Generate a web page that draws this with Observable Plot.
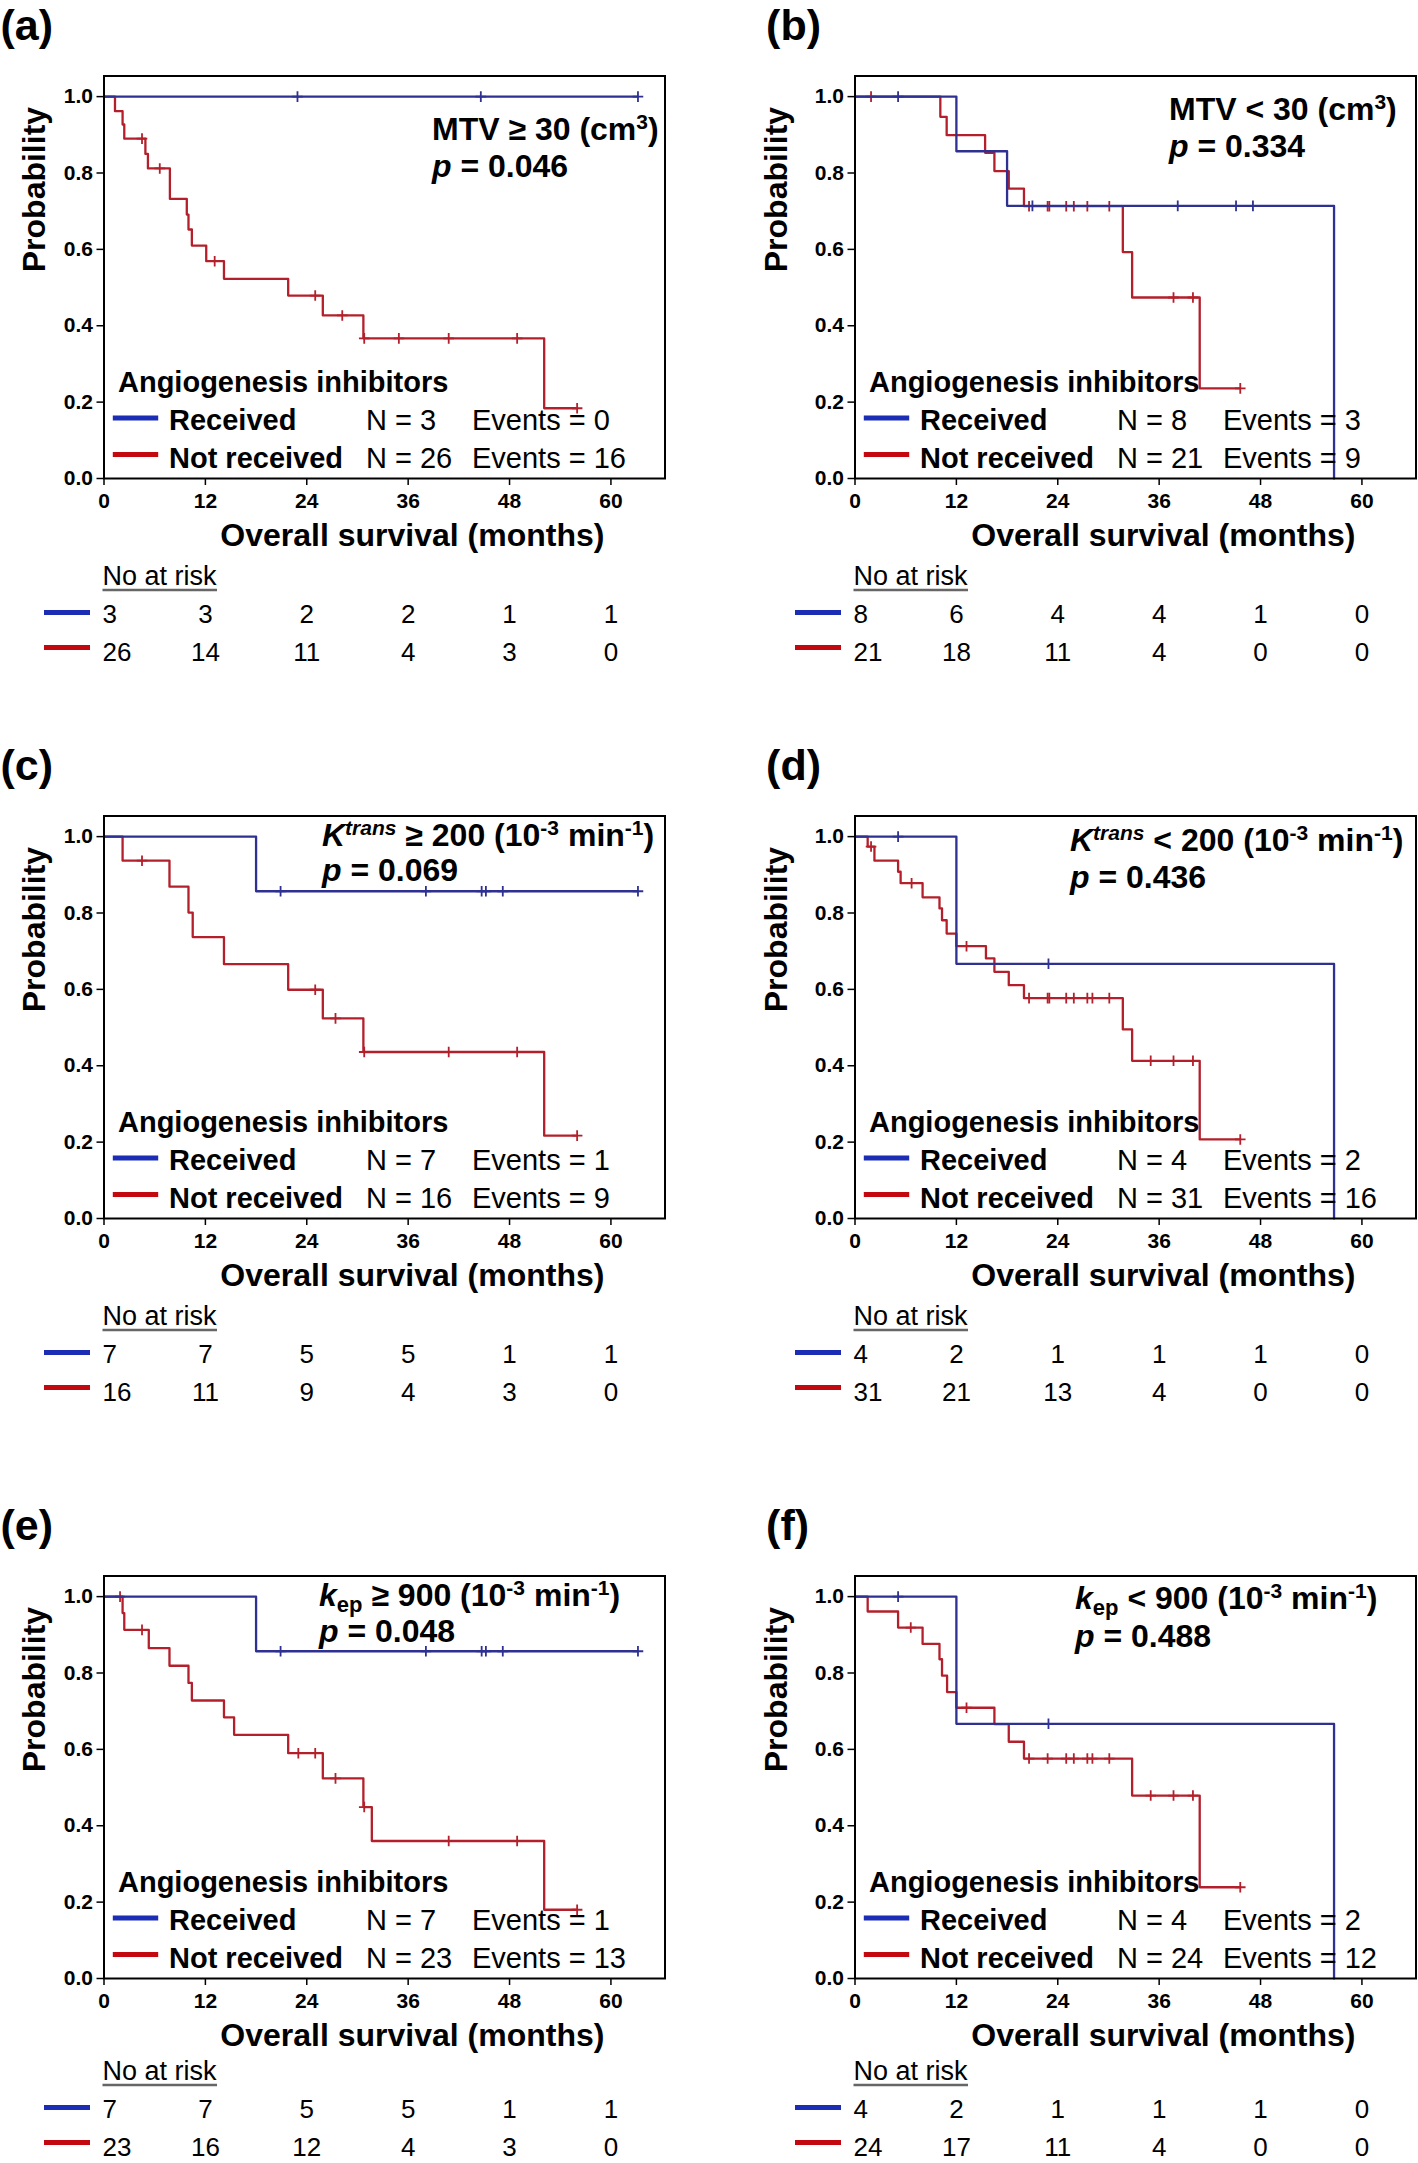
<!DOCTYPE html>
<html><head><meta charset="utf-8">
<script src="https://cdn.jsdelivr.net/npm/d3@7"></script>
<script src="https://cdn.jsdelivr.net/npm/@observablehq/plot@0.6"></script>
<style>
body{margin:0;background:#fff;}
#page{position:relative;width:1418px;height:2163px;overflow:hidden;background:#fff;}
.panel{position:absolute;}
.panel svg{display:block;overflow:visible;max-width:none;}
</style></head><body><div id="page"></div>
<script>
// ---------- data ----------
const xTicks = [0, 12, 24, 36, 48, 60];
const yTicks = [0, 0.2, 0.4, 0.6, 0.8, 1.0];
const groups = ["Received", "Not received"];
const panelLabels = ["(a)", "(b)", "(c)", "(d)", "(e)", "(f)"];
const pValues = ["0.046", "0.334", "0.069", "0.436", "0.048", "0.488"];
const nReceived = [3, 8, 7, 4, 7, 4];
const nNotReceived = [26, 21, 16, 31, 23, 24];
const eventsReceived = [0, 3, 1, 2, 1, 2];
const eventsNotReceived = [16, 9, 9, 16, 13, 12];
const riskReceived = [[3,3,2,2,1,1],[8,6,4,4,1,0],[7,7,5,5,1,1],[4,2,1,1,1,0],[7,7,5,5,1,1],[4,2,1,1,1,0]];
const riskNotReceived = [[26,14,11,4,3,0],[21,18,11,4,0,0],[16,11,9,4,3,0],[31,21,13,4,0,0],[23,16,12,4,3,0],[24,17,11,4,0,0]];

// (a) MTV >= 30
const aRecTime = [0, 63.2];
const aRecSurv = [1, 1];
const aRecCens = [22.9, 44.6, 63.2];
const aNotTime = [0, 1.3, 2.2, 2.4, 4.9, 5.2, 7.8, 9.8, 10.0, 10.4, 12.1, 14.2, 21.8, 25.9, 30.7, 52.1, 56.0];
const aNotSurv = [1, 0.962, 0.927, 0.890, 0.850, 0.812, 0.732, 0.691, 0.652, 0.610, 0.569, 0.523, 0.479, 0.427, 0.367, 0.184, 0.184];
const aNotCens = [4.5, 6.6, 13.1, 25.0, 28.2, 30.8, 34.9, 40.8, 48.9, 56.0];
// (b) MTV < 30
const bRecTime = [0, 12.0, 18.0, 56.7];
const bRecSurv = [1, 0.857, 0.714, 0];
const bRecCens = [5.1, 21.0, 38.2, 45.1, 47.1];
const bNotTime = [0, 10.1, 10.85, 15.4, 16.5, 18.2, 20.0, 31.7, 32.8, 40.8, 45.6];
const bNotSurv = [1, 0.947, 0.899, 0.853, 0.805, 0.759, 0.713, 0.593, 0.474, 0.236, 0.236];
const bNotCens = [1.9, 20.6, 22.8, 23.0, 25.0, 25.9, 27.5, 30.1, 37.7, 40.0, 45.6];
// (c) Ktrans >= 200
const cRecTime = [0, 18.0, 63.2];
const cRecSurv = [1, 0.857, 0.857];
const cRecCens = [20.9, 38.1, 44.7, 45.2, 47.2, 63.2];
const cNotTime = [0, 2.2, 7.75, 10.0, 10.5, 14.2, 21.8, 25.9, 30.7, 52.1, 56.0];
const cNotSurv = [1, 0.937, 0.869, 0.801, 0.737, 0.666, 0.599, 0.524, 0.436, 0.217, 0.217];
const cNotCens = [4.5, 25.0, 27.4, 30.8, 40.8, 48.9, 56.0];
// (d) Ktrans < 200
const dRecTime = [0, 12.0, 56.7];
const dRecSurv = [1, 0.667, 0];
const dRecCens = [5.1, 22.9];
const dNotTime = [0, 1.5, 2.3, 5.1, 5.4, 8.0, 10.0, 10.3, 10.85, 12.0, 15.5, 16.5, 18.2, 20.0, 31.7, 32.8, 40.8, 45.6];
const dNotSurv = [1, 0.974, 0.937, 0.908, 0.878, 0.841, 0.812, 0.781, 0.746, 0.713, 0.681, 0.646, 0.611, 0.577, 0.495, 0.413, 0.207, 0.207];
const dNotCens = [1.9, 6.7, 13.2, 20.6, 22.8, 23.0, 25.0, 25.9, 27.5, 28.1, 30.1, 35.0, 37.7, 40.0, 45.6];
// (e) kep >= 900
const eRecTime = [0, 18.0, 63.2];
const eRecSurv = [1, 0.857, 0.857];
const eRecCens = [20.9, 38.1, 44.7, 45.2, 47.2, 63.2];
const eNotTime = [0, 2.2, 2.4, 5.3, 7.75, 10.0, 10.4, 14.2, 15.4, 21.8, 25.9, 30.7, 31.7, 52.1, 56.0];
const eNotSurv = [1, 0.957, 0.913, 0.865, 0.819, 0.774, 0.728, 0.684, 0.638, 0.590, 0.524, 0.449, 0.360, 0.180, 0.180];
const eNotCens = [1.9, 4.5, 23.0, 25.0, 27.4, 30.8, 40.8, 48.9, 56.0];
// (f) kep < 900
const fRecTime = [0, 12.0, 56.7];
const fRecSurv = [1, 0.667, 0];
const fRecCens = [5.1, 22.9];
const fNotTime = [0, 1.5, 5.1, 8.0, 10.0, 10.3, 10.9, 12.0, 16.5, 18.2, 20.0, 32.8, 40.8, 45.6];
const fNotSurv = [1, 0.961, 0.919, 0.876, 0.836, 0.793, 0.750, 0.709, 0.666, 0.620, 0.576, 0.479, 0.239, 0.239];
const fNotCens = [6.6, 13.2, 20.6, 22.8, 25.0, 25.9, 27.5, 28.1, 30.1, 35.0, 37.7, 40.0, 45.6];

const annotations = [
  [{t:"MTV ≥ 30 (cm"},{t:"3",sup:true},{t:")"}],
  [{t:"MTV < 30 (cm"},{t:"3",sup:true},{t:")"}],
  [{t:"K",it:true},{t:"trans",it:true,sup:true},{t:" ≥ 200 (10"},{t:"-3",sup:true},{t:" min"},{t:"-1",sup:true},{t:")"}],
  [{t:"K",it:true},{t:"trans",it:true,sup:true},{t:" < 200 (10"},{t:"-3",sup:true},{t:" min"},{t:"-1",sup:true},{t:")"}],
  [{t:"k",it:true},{t:"ep",sub:true},{t:" ≥ 900 (10"},{t:"-3",sup:true},{t:" min"},{t:"-1",sup:true},{t:")"}],
  [{t:"k",it:true},{t:"ep",sub:true},{t:" < 900 (10"},{t:"-3",sup:true},{t:" min"},{t:"-1",sup:true},{t:")"}]
];

const curves = [
  {recT:aRecTime, recS:aRecSurv, recC:aRecCens, notT:aNotTime, notS:aNotSurv, notC:aNotCens},
  {recT:bRecTime, recS:bRecSurv, recC:bRecCens, notT:bNotTime, notS:bNotSurv, notC:bNotCens},
  {recT:cRecTime, recS:cRecSurv, recC:cRecCens, notT:cNotTime, notS:cNotSurv, notC:cNotCens},
  {recT:dRecTime, recS:dRecSurv, recC:dRecCens, notT:dNotTime, notS:dNotSurv, notC:dNotCens},
  {recT:eRecTime, recS:eRecSurv, recC:eRecCens, notT:eNotTime, notS:eNotSurv, notC:eNotCens},
  {recT:fRecTime, recS:fRecSurv, recC:fRecCens, notT:fNotTime, notS:fNotSurv, notC:fNotCens}
];

// ---------- layout ----------
const FONT = "'Liberation Sans', Arial, Helvetica, sans-serif";
const blueCurve = "#2e3191", redCurve = "#b3202b";
const blueSwatch = "#1b2db5", redSwatch = "#c4080f";
const W = [700, 667], COLX = [0, 751], ROWY = [0, 740, 1500];
const RISKSHIFT = [0, 0, -5];
const LABELX = [0, 14.6], PROBDX = [-69.5, -78.5];
const ML = 103.5, FW = 561, MT = 75.5, FH = 402.5, KMH = 560, RISKH = 103;
const XMAX = 66.4, YMAX = 1.054;
const ANN = [{dx:328,y1:64,y2:101},{dx:314,y1:44,y2:81},{dx:218,y1:30,y2:65},{dx:215,y1:35,y2:72},{dx:215,y1:30,y2:66},{dx:220,y1:33,y2:71}];

function survAt(T, S, t) { let s = S[0]; for (let i = 0; i < T.length; i++) if (T[i] <= t + 1e-9) s = S[i]; return s; }

function findText(svg, str) {
  return Array.from(svg.querySelectorAll("text")).find(t => t.textContent === str);
}

function rich(svg, plain, parts) {
  const node = findText(svg, plain);
  if (!node) return;
  const t = d3.select(node);
  t.text(null);
  let cur = 0;
  for (const p of parts) {
    const target = p.sup ? -11 : p.sub ? 6 : 0;
    const ts = t.append("tspan").text(p.t);
    if (target !== cur) { ts.attr("dy", target - cur); cur = target; }
    if (p.sup) ts.attr("font-size", 21);
    if (p.sub) ts.attr("font-size", 22);
    if (p.it) ts.attr("font-style", "italic");
  }
}

const page = document.getElementById("page");

function panel(i) {
  const col = i % 2, row = Math.floor(i / 2);
  const w = W[col], mr = w - ML - FW;
  const c = curves[i];
  const rec = c.recT.map((t, j) => ({t, s: c.recS[j]}));
  const not = c.notT.map((t, j) => ({t, s: c.notS[j]}));
  const recC = c.recC.map(t => ({t, s: survAt(c.recT, c.recS, t)}));
  const notC = c.notC.map(t => ({t, s: survAt(c.notT, c.notS, t)}));
  const ann = ANN[i];
  const tl = {frameAnchor: "top-left", textAnchor: "start", lineAnchor: "bottom"};
  const bl = {frameAnchor: "bottom-left", textAnchor: "start", lineAnchor: "bottom", fontSize: 29};
  const plain1 = annotations[i].map(p => p.t).join("");
  const plain2 = `p = ${pValues[i]}`;

  const km = Plot.plot({
    width: w, height: KMH,
    marginLeft: ML, marginRight: mr, marginTop: MT, marginBottom: KMH - MT - FH,
    style: {fontFamily: FONT, fontSize: "21px", fontWeight: "bold", color: "#000", background: "#fff", overflow: "visible"},
    x: {domain: [0, XMAX], label: null},
    y: {domain: [0, YMAX], label: null},
    marks: [
      Plot.axisX(xTicks, {tickSize: 7, tickPadding: 8, label: null, fontSize: 21, fontWeight: "bold", strokeWidth: 1.5}),
      Plot.axisY(yTicks, {tickSize: 7, tickPadding: 4, label: null, tickFormat: d3.format(".1f"), fontSize: 21, fontWeight: "bold", strokeWidth: 1.5}),
      Plot.line(not, {x: "t", y: "s", curve: "step-after", stroke: redCurve, strokeWidth: 2.3}),
      Plot.dot(notC, {x: "t", y: "s", symbol: "plus", r: 3.5, stroke: redCurve, strokeWidth: 1.8}),
      Plot.line(rec, {x: "t", y: "s", curve: "step-after", stroke: blueCurve, strokeWidth: 2.3}),
      Plot.dot(recC, {x: "t", y: "s", symbol: "plus", r: 3.5, stroke: blueCurve, strokeWidth: 1.8}),
      Plot.frame({stroke: "#000", strokeWidth: 2}),
      Plot.text(["Probability"], {frameAnchor: "left", dx: PROBDX[col], dy: -5, rotate: -90, fontSize: 32, fontWeight: "bold"}),
      Plot.text(["Overall survival (months)"], {x: 36.5, frameAnchor: "bottom", dy: 67, lineAnchor: "bottom", fontSize: 32, fontWeight: "bold"}),
      Plot.text([panelLabels[i]], {...tl, dx: LABELX[col] - ML, dy: 39.5 - MT, fontSize: 43, fontWeight: "bold"}),
      Plot.text([plain1], {...tl, dx: ann.dx, dy: ann.y1, fontSize: 32, fontWeight: "bold"}),
      Plot.text([plain2], {...tl, dx: ann.dx, dy: ann.y2, fontSize: 32, fontWeight: "bold"}),
      Plot.text(["Angiogenesis inhibitors"], {...bl, dx: 14, dy: -87, fontWeight: "bold"}),
      Plot.text([groups[0]], {...bl, dx: 65, dy: -49, fontWeight: "bold"}),
      Plot.text([groups[1]], {...bl, dx: 65, dy: -11, fontWeight: "bold"}),
      Plot.text([`N = ${nReceived[i]}`], {...bl, dx: 262, dy: -49, fontWeight: "normal"}),
      Plot.text([`N = ${nNotReceived[i]}`], {...bl, dx: 262, dy: -11, fontWeight: "normal"}),
      Plot.text([`Events = ${eventsReceived[i]}`], {...bl, dx: 368, dy: -49, fontWeight: "normal"}),
      Plot.text([`Events = ${eventsNotReceived[i]}`], {...bl, dx: 368, dy: -11, fontWeight: "normal"})
    ]
  });
  rich(km, plain1, annotations[i]);
  rich(km, plain2, [{t: "p", it: true}, {t: " = " + pValues[i]}]);
  const sw = d3.select(km).append("g");
  [[blueSwatch, 60], [redSwatch, 23.4]].forEach(([col_, off]) => {
    sw.append("line").attr("x1", ML + 9.3).attr("x2", ML + 54.7)
      .attr("y1", MT + FH - off).attr("y2", MT + FH - off)
      .attr("stroke", col_).attr("stroke-width", 5);
  });

  const riskRows = [];
  groups.forEach((g, gi) => {
    const arr = gi === 0 ? riskReceived[i] : riskNotReceived[i];
    arr.forEach((n, k) => riskRows.push({g, t: xTicks[k], n: String(n), first: k === 0}));
  });
  const risk = Plot.plot({
    width: w, height: RISKH,
    marginLeft: ML, marginRight: mr, marginTop: 0, marginBottom: 0,
    style: {fontFamily: FONT, fontSize: "26px", fontWeight: "normal", color: "#000", background: "#fff", overflow: "visible"},
    x: {domain: [0, XMAX], axis: null},
    y: {type: "point", domain: groups, range: [62, 100], padding: 0, axis: null},
    marks: [
      Plot.text(riskRows.filter(d => d.first), {x: "t", y: "g", text: "n", textAnchor: "start", lineAnchor: "bottom", fontSize: 26, dx: -1.5}),
      Plot.text(riskRows.filter(d => !d.first), {x: "t", y: "g", text: "n", lineAnchor: "bottom", fontSize: 26}),
      Plot.text(["No at risk"], {x: 0, frameAnchor: "top", dx: -1.5, dy: 24, textAnchor: "start", lineAnchor: "bottom", fontSize: 27})
    ]
  });
  const ys = risk.scale("y");
  const rs = d3.select(risk).append("g");
  [[blueSwatch, groups[0], 9.5], [redSwatch, groups[1], 12.5]].forEach(([col_, g, off]) => {
    const y = ys.apply(g) - off;
    rs.append("line").attr("x1", 44).attr("x2", 90).attr("y1", y).attr("y2", y)
      .attr("stroke", col_).attr("stroke-width", 5);
  });
  risk.style.marginTop = RISKSHIFT[row] + "px";

  const div = document.createElement("div");
  div.className = "panel";
  div.style.left = COLX[col] + "px";
  div.style.top = ROWY[row] + "px";
  div.style.width = w + "px";
  div.appendChild(km);
  div.appendChild(risk);
  page.appendChild(div);

  // underline for "No at risk"
  const tn = findText(risk, "No at risk");
  if (tn) {
    const r = tn.getBoundingClientRect(), s = risk.getBoundingClientRect();
    const yb = 24 + 6;
    rs.append("line").attr("x1", r.left - s.left).attr("x2", r.right - s.left)
      .attr("y1", yb).attr("y2", yb).attr("stroke", "#666").attr("stroke-width", 2.5);
  }
}

for (let i = 0; i < 6; i++) panel(i);
</script>
</body></html>
